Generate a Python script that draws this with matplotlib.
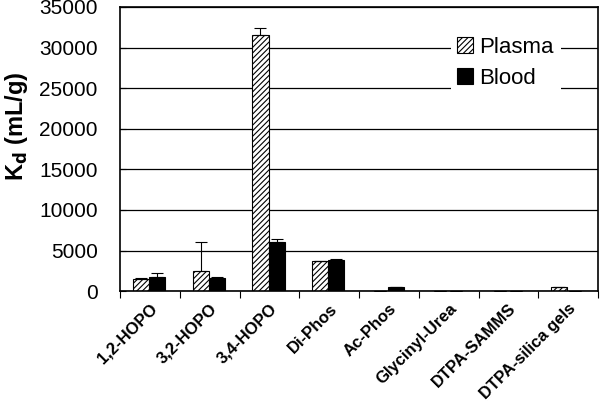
import numpy as np
import matplotlib
matplotlib.use("Agg")
from matplotlib import pyplot as plt

plt.rcParams['font.family'] = ['Liberation Sans', 'DejaVu Sans']
plt.rcParams['hatch.linewidth'] = 0.8

# data
categories = ['1,2-HOPO', '3,2-HOPO', '3,4-HOPO', 'Di-Phos', 'Ac-Phos',
              'Glycinyl-Urea', 'DTPA-SAMMS', 'DTPA-silica gels']
plasma = [1450, 2500, 31600, 3700, 0, 0, 0, 500]
plasma_err = [120, 3600, 750, 80, 0, 0, 0, 0]
blood = [1800, 1600, 6050, 3900, 550, 0, 0, 0]
blood_err = [450, 120, 320, 100, 0, 0, 0, 0]

x = np.arange(len(categories))
w = 0.27

fig = plt.figure(figsize=(6.0, 4.09), dpi=100)
ax = fig.add_axes([0.2, 0.288, 0.797, 0.695])

ax.set_axisbelow(True)
ax.yaxis.grid(True, color='black', linewidth=0.9)

ax.bar(x - w / 2 - 0.015, plasma, w, color='white', edgecolor='black',
       hatch='//////', linewidth=0.8, label='Plasma',
       yerr=[np.zeros(len(x)), plasma_err],
       error_kw=dict(ecolor='black', elinewidth=0.8, capsize=4, capthick=0.8))
ax.bar(x + w / 2 - 0.015, blood, w, color='black', edgecolor='black',
       linewidth=0.8, label='Blood',
       yerr=[np.zeros(len(x)), blood_err],
       error_kw=dict(ecolor='black', elinewidth=0.8, capsize=4, capthick=0.8))

ax.set_xlim(-0.5, len(categories) - 0.5)
ax.set_ylim(0, 35000)
ax.set_yticks(np.arange(0, 35001, 5000))
ax.tick_params(axis='y', direction='in', length=4, labelsize=15, pad=16)

ax.set_xticks(np.arange(-0.5, len(categories), 1.0))
ax.set_xticklabels([])
ax.tick_params(axis='x', direction='out', length=5)
ax.set_xticks(x, minor=True)
ax.set_xticklabels(categories, minor=True, rotation=45, ha='right',
                   rotation_mode='anchor', fontsize=12, fontweight='bold')
ax.tick_params(axis='x', which='minor', length=0, pad=7)

for s in ax.spines.values():
    s.set_linewidth(1.2)

ax.set_ylabel('K$_\\mathbf{d}$ (mL/g)', fontsize=17, fontweight='bold')
ax.yaxis.set_label_coords(-0.188, 0.58)

leg = ax.legend(loc='upper right', bbox_to_anchor=(0.945, 0.958), frameon=True,
                fontsize=16, handlelength=0.7, handleheight=0.7,
                handletextpad=0.3, labelspacing=0.45, borderpad=0.3)
leg.get_frame().set_edgecolor('none')
leg.get_frame().set_facecolor('white')
leg.get_frame().set_alpha(1)

plt.savefig('out.png', dpi=100)
